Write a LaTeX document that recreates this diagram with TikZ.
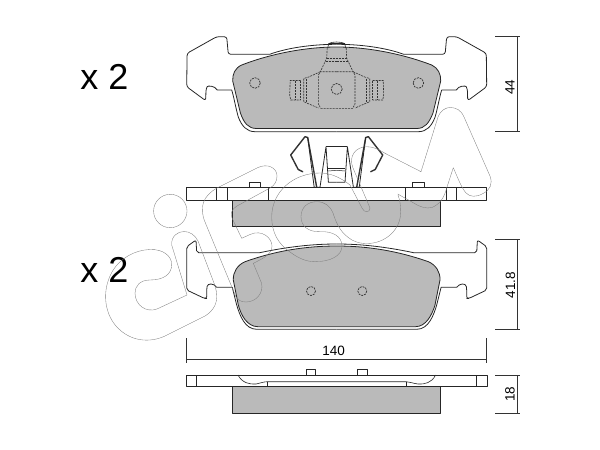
\documentclass[tikz,border=0pt]{standalone}
\usepackage{fontspec}
\setmainfont{Liberation Sans}
\tikzset{
  outline/.style={draw=black!85,line width=0.8pt,line join=round},
  padfill/.style={outline,fill=black!27},
  hidden/.style={draw=black!80,line width=0.6pt,dash pattern=on 2pt off 1pt},
  wire/.style={draw=black!80,line width=1.4pt,line cap=round,line join=round},
  dimline/.style={draw=black!80,line width=0.6pt},
  logoline/.style={draw=black!50,line width=0.35pt,line join=round},
  dimtext/.style={font=\fontsize{13.5}{14}\selectfont,inner sep=0pt},
  bigtext/.style={font=\fontsize{36}{38}\selectfont,inner sep=0pt,anchor=base}
}
\begin{document}
\begin{tikzpicture}[x=1pt,y=-1pt]
  \useasboundingbox (0,0) rectangle (600,450);
  % Upper pad
  \draw[padfill] (241.7,65) .. controls (270,54) and (305,47) .. (336.7,47) .. controls (368,47) and (403,54) .. (431.7,65)
    .. controls (438,68) and (441,74) .. (440.7,81) -- (433,113) .. controls (429,123) and (425,128.5) .. (416.7,128.5)
    -- (256.7,128.5) .. controls (248,128.5) and (244,123) .. (240.4,113) -- (232.7,81) .. controls (232.4,74) and (235,68) .. (241.7,65) -- cycle;
  % Ears, and the hidden parts behind the upper pad
  \foreach \s in {1,-1}{
    \begin{scope}[shift={(336.7,0)},xscale=\s]
      \draw[outline] (0,44.3) .. controls (-25,44.3) and (-50,48) .. (-67,54.3)
        [rounded corners=2.5pt] -- (-108.4,54.3) -- (-110,36.7) -- (-120,36.7) -- (-149.6,53.3) -- (-150,86.7) -- (-131,100.7)
        -- (-130.7,89) [sharp corners] .. controls (-129,85.5) and (-122,85.5) .. (-119.5,90) -- (-105,90)
        .. controls (-103,96) and (-101,108) .. (-98.4,117) .. controls (-95,126) and (-90,131.7) .. (-81.7,131.7) -- (0,131.7);
      % hidden parts
      \draw[hidden] (0,71.7) -- (-16.4,71.7) -- (-18.3,75) -- (-18.3,104) -- (-16,108.3) -- (0,108.3);
      \draw[hidden] (-16.4,71.7) -- (-28,77) -- (-33,78.5) -- (-33,101.7) -- (-18.3,108);
      \draw[hidden] (-30,78.5) -- (-30,101.7);
      \draw[hidden] (-36,80.5) -- (-46.5,80.5) -- (-47,95) -- (-46,100) -- (-36,100);
      \draw[hidden] (-41,81) -- (-41,100);
      \draw[hidden] (-36,80.5) -- (-36,100);
      \draw[outline,line width=0.6pt] (-8,43.5) -- (-9,48);
      \draw[hidden] (-9.5,48) -- (-10,58.3) -- (-16.4,71.7);
      \draw[hidden] (-10,58.3) -- (0,58.3);
      \draw[hidden] (-11,61.7) -- (0,61.7);
      % mounting hole
      \draw[hidden,line width=0.7pt] (-81.7,83) circle (5.3);
    \end{scope}
  }
  \draw[outline,line width=0.6pt] (328.7,43.5) .. controls (332,41.5) and (341,41.5) .. (344.7,43.5) -- cycle;
  \draw[hidden,line width=0.7pt] (336.7,89) circle (5.5);
  % Spring clip
  \draw[outline] (326,146.7) -- (347.4,146.7);
  \foreach \s in {1,-1}{
    \begin{scope}[shift={(336.7,0)},xscale=\s]
      \draw[wire] (-34,171.7) -- (-38.5,169.5) -- (-41.7,163.3) -- (-46,155) -- (-31.7,136.7) -- (-29,137.5) -- (-20,187.3);
      \draw[outline] (-29,137.5) -- (-22.5,187.3) -- (-16.7,187.3) -- (-10.7,146.7) -- (-8.3,182.3) -- (0,182.3);
      \draw[outline] (-8.3,168.5) -- (0,168.5);
      \draw[outline,line width=0.5pt] (-8.3,171) -- (0,170.3);
    \end{scope}
  }
  % Side view under the clip
  \draw[padfill] (232.7,200) rectangle (440.7,226.7);
  \draw[outline] (186.7,187.7) rectangle (486.7,200);
  \draw[outline] (216.7,187.7) -- (216.7,200) (227.3,187.7) -- (227.3,200) (268.7,187.7) -- (268.7,200);
  \draw[outline] (405,187.7) -- (405,200) (446.7,187.7) -- (446.7,200) (456.7,187.7) -- (456.7,200);
  \draw[outline] (249.3,187.7) -- (249.3,182.3) -- (260.7,182.3) -- (260.7,187.7);
  \draw[outline] (412.7,187.7) -- (412.7,182.3) -- (424,182.3) -- (424,187.7);
  % Lower pad
  \draw[padfill] (245,261.7) .. controls (275,251) and (305,246) .. (336.7,246) .. controls (368,246) and (398,251) .. (428.4,261.7)
    .. controls (436,265) and (440.3,272) .. (440,280) -- (435,305) .. controls (432,315) and (426,326.7) .. (415.4,326.7)
    -- (258,326.7) .. controls (247,326.7) and (241,315) .. (238.3,305) -- (233.3,280) .. controls (233,272) and (237.4,265) .. (245,261.7) -- cycle;
  \foreach \s in {1,-1}{
    \begin{scope}[shift={(336.7,0)},xscale=\s]
      \draw[outline] (0,244) .. controls (-25,244) and (-50,247) .. (-77,252.7)
        [rounded corners=2pt] -- (-140,252.7) -- (-140.7,240) -- (-150,246.7) -- (-150,290) -- (-132,298.5) -- (-130,298.5)
        -- (-130,288.5) [sharp corners] .. controls (-129,283) and (-123,283) .. (-120,287.3) -- (-104.4,287.3)
        -- (-100,305) .. controls (-97,315) and (-92,329.3) .. (-80,329.3) -- (0,329.3);
    \end{scope}
  }
  \draw[hidden,line width=0.7pt] (311,291) circle (4.5);
  \draw[hidden,line width=0.7pt] (362.3,291) circle (4.5);
  % Bottom side view
  \draw[padfill] (232.7,386.7) rectangle (440.7,413.3);
  \draw[outline] (186.7,375) rectangle (487,386.7);
  \draw[outline] (196.7,375) -- (196.7,386.7) (476,375) -- (476,386.7);
  \draw[outline] (306,375) -- (306,369.3) -- (315.7,369.3) -- (315.7,375);
  \draw[outline] (357.7,375) -- (357.7,369.3) -- (367.3,369.3) -- (367.3,375);
  \draw[outline,line width=0.6pt] (238,375) .. controls (242,383) and (250,384.5) .. (256,384) .. controls (260,383.5) and (263,381.7) .. (267.3,381.7)
    -- (406,381.7) .. controls (410,381.7) and (413,383.5) .. (418,384) .. controls (424,384.5) and (432,383) .. (435.5,375);
  \draw[outline] (267.3,381.7) -- (267.3,386.7) (406,381.7) -- (406,386.7);
  % Dimensions
  \draw[dimline] (186.7,338.3) -- (186.7,363.3) (486.7,338.3) -- (486.7,363.3) (186.7,359.3) -- (486.7,359.3);
  \node[dimtext] (width) at (333.7,351) {140};
  \draw[dimline] (495,36.7) -- (520,36.7) (495,131.7) -- (520,131.7) (517.3,36.7) -- (517.3,131.7);
  \node[dimtext,rotate=90] (heighttop) at (510,87) {44};
  \draw[dimline] (495,239.3) -- (520,239.3) (495,329.3) -- (520,329.3) (517.3,239.3) -- (517.3,329.3);
  \node[dimtext,rotate=90] (heightlow) at (510.5,285) {41.8};
  \draw[dimline] (495,375) -- (520,375) (495,413.3) -- (520,413.3) (517.3,375) -- (517.3,413.3);
  \node[dimtext,rotate=90] (thick) at (510,394) {18};
  % Quantities
  \node[bigtext] (qtytop) at (104.5,89) {x 2};
  \node[bigtext] (qtylow) at (104.5,282.5) {x 2};
  % Logo, drawn last as it shows through
  \draw[logoline] (170.3,211) circle (16.7);
  % c and i
  \draw[logoline] (171.7,245) .. controls (171,236) and (178,231.5) .. (184,231.5) .. controls (190,231.5) and (195,235) .. (198,241)
    -- (214,283) .. controls (219,296) and (218,308) .. (205,316) -- (165,336) .. controls (150,343) and (130,342) .. (116,326)
    .. controls (104,312) and (102,290) .. (112,272) .. controls (120,258) and (135,250) .. (150,249.5)
    .. controls (163,249) and (172,256) .. (171.7,265) .. controls (171.5,274) and (164,280) .. (150,280)
    .. controls (140,280) and (135,286) .. (135,293) .. controls (135,305) and (146,313) .. (157,309) -- (187,295) -- cycle;
  % f
  \draw[logoline] (236,297) -- (205,222) .. controls (199,207) and (203,196) .. (217,188) -- (258,167.5)
    .. controls (268,163) and (277,168) .. (277,176) .. controls (277,181) and (275,185) .. (270,188) -- (237,206)
    .. controls (232,209) and (230,213) .. (232,218) -- (241.7,238.3) -- (250,234.5) .. controls (262,229) and (272,238) .. (272,246)
    .. controls (272,254) and (264,258) .. (253.3,263.3) -- (261.5,283) .. controls (264,293) and (256,302) .. (246,302) .. controls (241,302) and (238,300) .. (236,297);
  % a
  \draw[logoline] (350,185) .. controls (340,177) and (330,173) .. (320,173) .. controls (293,173) and (271.7,192) .. (271.7,217)
    .. controls (271.7,232) and (278,244) .. (290,252) .. controls (298,258) and (306,261.7) .. (315,261.7)
    .. controls (330,261.7) and (342,256) .. (342,246) .. controls (342,236) and (332,231) .. (320,231.7)
    .. controls (308,232) and (301,226) .. (301,216.7) .. controls (301,207) and (308,201.7) .. (316.7,201.7)
    .. controls (325,201.7) and (330,206) .. (333,213) .. controls (337,226) and (342,234) .. (352,240)
    .. controls (358,243) and (362,243.5) .. (367,243.5) .. controls (385,243.5) and (400.7,230) .. (400.7,212)
    .. controls (400.7,206) and (400,200) .. (398,195);
  \draw[logoline] (350,185) -- (362,208) .. controls (364,213) and (370,213) .. (370,208) -- (353,168)
    .. controls (348,156) and (356,146.7) .. (366.7,146.7) .. controls (373,146.7) and (378,149) .. (385,153.3);
  % m
  \draw[logoline] (385,153.3) -- (421,171.7) -- (438,117) .. controls (441,110) and (446,107.5) .. (450,107.5)
    .. controls (456,107.5) and (461,110) .. (464,117) -- (490,176) .. controls (493,184) and (490,190) .. (483,193.5)
    .. controls (476,197.5) and (470,197) .. (466,193) .. controls (461,187) and (457,176) .. (453.3,167.7)
    -- (446.7,188) .. controls (444,198) and (440,204) .. (432,207.5) .. controls (426,209) and (420,207) .. (412,202) -- (397.7,194);
\end{tikzpicture}
\end{document}
